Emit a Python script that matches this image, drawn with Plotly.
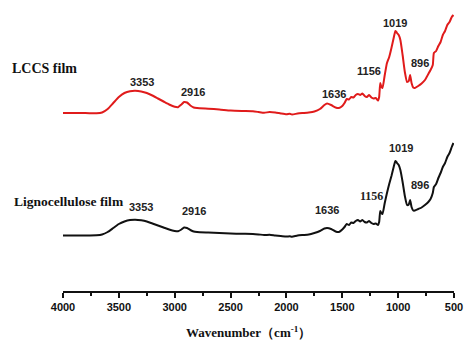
import plotly.graph_objects as go

# Wavenumber (cm-1)
wn = [4000, 3800, 3700, 3650, 3600, 3550, 3500, 3450, 3400, 3353, 3300, 3250, 3200, 3150,
      3100, 3050, 3000, 2970, 2940, 2916, 2890, 2860, 2830, 2800, 2700, 2600, 2500, 2400,
      2300, 2250, 2200, 2150, 2100, 2050, 2000, 1970, 1950, 1900, 1850, 1800, 1750, 1700,
      1660, 1636, 1600, 1560, 1530, 1500, 1480, 1460, 1440, 1420, 1400, 1380, 1360, 1340,
      1320, 1300, 1280, 1260, 1240, 1220, 1200, 1180, 1170, 1160, 1150, 1140, 1120, 1100,
      1080, 1060, 1040, 1025, 1019, 1010, 995, 980, 960, 940, 920, 905, 893, 880, 865, 850,
      820, 790, 760, 730, 710, 690, 680, 660, 640, 620, 600, 580, 560, 540, 520, 505]

# Intensity (a.u.), offset spectra
lccs = [178, 178, 177.7, 178.5, 182, 188, 194, 198, 199.8, 200.2, 199.5, 198, 195.5, 192.5,
        189.5, 186.5, 184.2, 183.8, 186.5, 189, 188.5, 185.5, 183.5, 183, 182.3, 181.5, 180.5, 180,
        179.7, 179, 178.2, 179, 178.5, 177.5, 176.7, 177.2, 176.5, 177.5, 178, 178.5, 179.5, 182,
        186, 187.5, 186, 183.5, 183, 185, 188, 192, 191.5, 194, 193.5, 196, 197, 196,
        197.5, 195, 194, 196, 193.5, 192.5, 193, 190.5, 194, 208, 204, 203, 216, 228,
        234, 243, 253, 260, 259.5, 258, 256, 251, 236, 219, 209, 210, 216, 208, 203.5, 203,
        205, 207.5, 211, 217, 221, 226, 238, 240, 245, 249, 256, 260, 266, 269, 274, 276]

ligno = [55.5, 55.5, 55.7, 56.5, 59, 63, 67, 69.5, 71, 71.3, 70.7, 69.5, 67.5, 65.5,
         63.5, 61.5, 60, 59.7, 61.5, 63.5, 63, 61, 59.5, 59, 58.5, 58, 57.5, 57.2,
         57, 56.6, 56, 56.2, 55.5, 55, 54.5, 54.7, 54.3, 55.5, 56, 56.5, 58, 60,
         62.5, 63, 62, 59.5, 59, 61.5, 64, 67, 66, 68.5, 68, 70, 71, 69.5,
         71, 69, 68.5, 70, 68, 67, 67.5, 66, 69, 80, 78, 77, 88, 98,
         107, 115, 124, 130, 129.5, 128, 126, 121, 109, 95, 86, 86.5, 91, 84, 80.5, 80.5,
         82, 83.5, 86, 89, 92, 98, 104, 107, 113, 118, 124, 128, 134, 138, 144, 148]

tick_vals = [4000, 3500, 3000, 2500, 2000, 1500, 1000, 500]
minor_vals = [3750, 3250, 2750, 2250, 1750, 1250, 750]

# Peak labels: (text, wavenumber position, intensity position)
lccs_peaks = [("3353", 3293, 209), ("2916", 2832, 199), ("1636", 1574, 197),
              ("1156", 1260, 220), ("1019", 1028, 268), ("896", 804, 228)]
ligno_peaks = [("3353", 3302, 84), ("2916", 2823, 80), ("1636", 1637, 81),
               ("1156", 1243, 95), ("1019", 974, 143), ("896", 804, 106)]

fig = go.Figure()
fig.add_trace(go.Scatter(x=wn, y=lccs, mode="lines",
                         line=dict(color="#e01b1b", width=2, shape="spline", smoothing=0.5),
                         showlegend=False))
fig.add_trace(go.Scatter(x=wn, y=ligno, mode="lines",
                         line=dict(color="#111111", width=2, shape="spline", smoothing=0.5),
                         showlegend=False))

sans = "Liberation Sans, Arial, sans-serif"
serif = "Liberation Serif, Times New Roman, serif"

for txt, x, y in lccs_peaks:
    fig.add_annotation(x=x, y=y, text="<b>%s</b>" % txt, showarrow=False,
                       font=dict(family=sans, size=11, color="#222"))
for txt, x, y in ligno_peaks:
    fam = serif if txt == "1156" else sans
    fig.add_annotation(x=x, y=y, text="<b>%s</b>" % txt, showarrow=False,
                       font=dict(family=fam, size=12 if txt == "1156" else 11, color="#222"))

fig.add_annotation(xref="paper", x=-0.1355, y=223, xanchor="left", text="<b>LCCS film</b>",
                   showarrow=False, font=dict(family=serif, size=14, color="#111"))
fig.add_annotation(xref="paper", x=-0.1304, y=90, xanchor="left",
                   text="<b>Lignocellulose film</b>",
                   showarrow=False, font=dict(family=serif, size=13.5, color="#111"))
fig.add_annotation(xref="paper", yref="paper", x=0.475, y=-0.141, yanchor="middle",
                   text="<b>Wavenumber（cm<sup>-1</sup>）</b>",
                   showarrow=False, font=dict(family=serif, size=13, color="#111"))

fig.update_layout(
    width=464, height=344,
    margin=dict(l=63, r=10, t=0, b=53),
    paper_bgcolor="white", plot_bgcolor="white",
    xaxis=dict(range=[4000, 500], autorange=False, showgrid=False, zeroline=False,
               showline=True, linecolor="#111", linewidth=1.5,
               ticks="outside", ticklen=5, tickwidth=1.5, tickcolor="#111",
               ticklabelstandoff=0,
               tickvals=tick_vals, ticktext=["<b>%d</b>" % v for v in tick_vals],
               tickfont=dict(family=sans, size=11, color="#111"),
               minor=dict(tickvals=minor_vals, ticks="outside", ticklen=3,
                          tickwidth=1.5, tickcolor="#111", showgrid=False)),
    yaxis=dict(range=[0, 291], autorange=False, visible=False),
)

fig.write_html("out.html")
